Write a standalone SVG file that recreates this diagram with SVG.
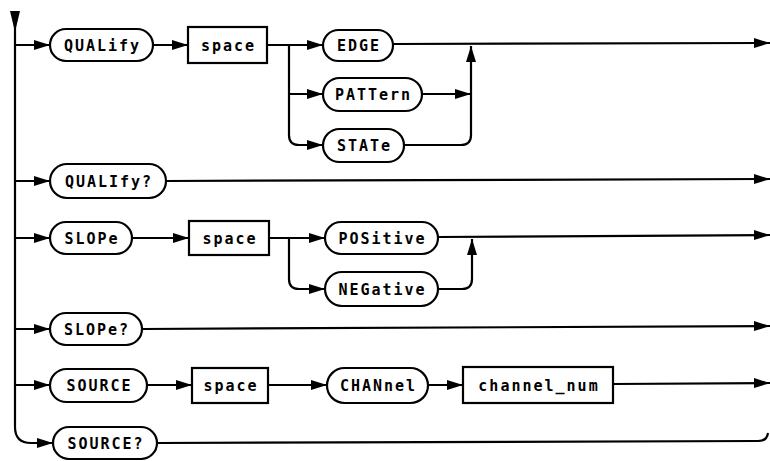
<svg xmlns="http://www.w3.org/2000/svg" width="770" height="461" viewBox="0 0 770 461">
<defs>
<style>
.ln{fill:none;stroke:#000;stroke-width:2.2}
.nd{fill:#fff;stroke:#000;stroke-width:2.2}
.tx{font-family:"DejaVu Sans Mono","Liberation Mono",monospace;font-weight:bold;font-size:15px;letter-spacing:2px;text-anchor:middle;fill:#000}
</style>
<marker id="ah" markerUnits="userSpaceOnUse" markerWidth="16" markerHeight="12" refX="16" refY="6" orient="auto">
<path d="M0,1 L16,6 L0,11 z" fill="#000"/>
</marker>
</defs>
<rect width="770" height="461" fill="#fff"/>
<g id="connectors">
<polygon points="10,11 20,11 15,32" fill="#000"/>
<path class="ln" d="M15,12 L15,427 Q15,443 31,443 L53,443" marker-end="url(#ah)"/>
<path class="ln" d="M15,45 L50,45" marker-end="url(#ah)"/>
<path class="ln" d="M153,45 L188,45" marker-end="url(#ah)"/>
<path class="ln" d="M267,45 L323,45" marker-end="url(#ah)"/>
<path class="ln" d="M289,45 L289,135 Q289,145 299,145 L323,145" marker-end="url(#ah)"/>
<path class="ln" d="M289,94 L323,94" marker-end="url(#ah)"/>
<path class="ln" d="M422,94 L471,94" marker-end="url(#ah)"/>
<path class="ln" d="M404,145 L461,145 Q471,145 471,135 L471,46" marker-end="url(#ah)"/>
<path class="ln" d="M393,44 L770,43" marker-end="url(#ah)"/>
<path class="ln" d="M15,181 L50,181" marker-end="url(#ah)"/>
<path class="ln" d="M166,181 L770,179" marker-end="url(#ah)"/>
<path class="ln" d="M15,238 L50,238" marker-end="url(#ah)"/>
<path class="ln" d="M132,238 L189,238" marker-end="url(#ah)"/>
<path class="ln" d="M269,238 L325,238" marker-end="url(#ah)"/>
<path class="ln" d="M289,238 L289,279 Q289,289 299,289 L325,289" marker-end="url(#ah)"/>
<path class="ln" d="M438,289 L462,289 Q472,289 472,279 L472,239" marker-end="url(#ah)"/>
<path class="ln" d="M438,237 L770,235" marker-end="url(#ah)"/>
<path class="ln" d="M15,329 L50,329" marker-end="url(#ah)"/>
<path class="ln" d="M142,329 L770,326" marker-end="url(#ah)"/>
<path class="ln" d="M15,385 L50,385" marker-end="url(#ah)"/>
<path class="ln" d="M147,385 L192,385" marker-end="url(#ah)"/>
<path class="ln" d="M268,385 L327,385" marker-end="url(#ah)"/>
<path class="ln" d="M428,385 L463,385" marker-end="url(#ah)"/>
<path class="ln" d="M613,384 L770,383" marker-end="url(#ah)"/>
<path class="ln" d="M157,443 L758,441 Q767,441 768,433"/>
</g>
<g id="qualify"><rect class="nd" x="50" y="29" width="103" height="32" rx="16"/><text class="tx" x="102.5" y="50.5">QUALify</text></g>
<g id="space1"><rect class="nd" x="188" y="27" width="79" height="36"/><text class="tx" x="228.5" y="50.5">space</text></g>
<g id="edge"><rect class="nd" x="323" y="30" width="70" height="31" rx="15.5"/><text class="tx" x="359" y="50.5">EDGE</text></g>
<g id="pattern"><rect class="nd" x="323" y="78" width="99" height="33" rx="16.5"/><text class="tx" x="373.5" y="99.5">PATTern</text></g>
<g id="state"><rect class="nd" x="323" y="129" width="81" height="33" rx="16.5"/><text class="tx" x="364.5" y="150.5">STATe</text></g>
<g id="qualifyq"><rect class="nd" x="50" y="164" width="116" height="34" rx="17"/><text class="tx" x="109" y="186.5">QUALIfy?</text></g>
<g id="slope"><rect class="nd" x="50" y="222" width="82" height="32" rx="16"/><text class="tx" x="92" y="243.5">SLOPe</text></g>
<g id="space2"><rect class="nd" x="189" y="221" width="80" height="34"/><text class="tx" x="230" y="243.5">space</text></g>
<g id="positive"><rect class="nd" x="325" y="222" width="113" height="32" rx="16"/><text class="tx" x="382.5" y="243.5">POSitive</text></g>
<g id="negative"><rect class="nd" x="325" y="272" width="113" height="34" rx="17"/><text class="tx" x="382.5" y="294.5">NEGative</text></g>
<g id="slopeq"><rect class="nd" x="50" y="313" width="92" height="32" rx="16"/><text class="tx" x="97" y="334.5">SLOPe?</text></g>
<g id="source"><rect class="nd" x="50" y="369" width="97" height="33" rx="16.5"/><text class="tx" x="99.5" y="390.5">SOURCE</text></g>
<g id="space3"><rect class="nd" x="192" y="368" width="76" height="35"/><text class="tx" x="231" y="390.5">space</text></g>
<g id="channel"><rect class="nd" x="327" y="368" width="101" height="35" rx="17.5"/><text class="tx" x="378.5" y="390.5">CHANnel</text></g>
<g id="channelnum"><rect class="nd" x="463" y="367" width="150" height="36"/><text class="tx" x="539" y="390.5">channel_num</text></g>
<g id="sourceq"><rect class="nd" x="53" y="427" width="104" height="32" rx="16"/><text class="tx" x="106" y="448.5">SOURCE?</text></g>
</svg>
